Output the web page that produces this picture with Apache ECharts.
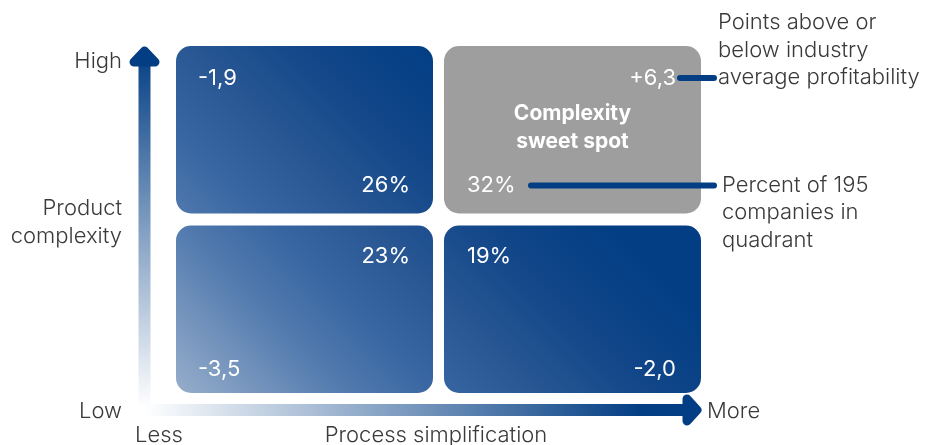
<!DOCTYPE html>
<html>
<head>
<meta charset="utf-8">
<script src="https://cdn.jsdelivr.net/npm/echarts@6/dist/echarts.min.js"></script>
<style>
  html, body { margin: 0; padding: 0; background: #ffffff; }
  #chart { width: 927px; height: 445px; }
</style>
</head>
<body>
<div id="chart"></div>
<script>
// Columns: process simplification (Less -> More); rows: product complexity (Low -> High)
const columnLabels = ['Less', 'More'];
const rowLabels = ['Low', 'High'];
const xAxisTitle = 'Process simplification';
const yAxisTitle = 'Product complexity';

// One entry per quadrant
const quadColumn = [0, 1, 0, 1];
const quadRow = [1, 1, 0, 0];
const profitVsIndustry = [-1.9, 6.3, -3.5, -2.0];   // points above/below industry average profitability
const shareOfCompanies = [26, 32, 23, 19];          // percent of 195 companies in quadrant

const sweetSpotTitle = 'Complexity\nsweet spot';
const profitNote = 'Points above or\nbelow industry\naverage profitability';
const shareNote = 'Percent of 195\ncompanies in\nquadrant';

const NAVY = '#033e84';
const GREY_BOX = '#9e9e9e';
const TEXT = '#3a3a3a';
const FONT = 'Inter, Roboto, "Noto Sans", sans-serif';

const fmtProfit = v => (v > 0 ? '+' : '') + v.toFixed(1).replace('.', ',');

const quadData = quadColumn.map((c, i) => [c, quadRow[i], profitVsIndustry[i], shareOfCompanies[i]]);
const bestProfit = Math.max(...profitVsIndustry);

const chart = echarts.init(document.getElementById('chart'), null, { renderer: 'canvas' });

// diagonal fill shared by all blue quadrants (light at bottom-left, navy towards top-right)
const quadFill = new echarts.graphic.LinearGradient(176, 393, 476, 93, [
  { offset: 0, color: '#97aecb' },
  { offset: 0.3, color: '#4f78ad' },
  { offset: 0.45, color: '#3765a1' },
  { offset: 0.62, color: '#265592' },
  { offset: 0.8, color: '#114689' },
  { offset: 1, color: NAVY }
], true);

function renderQuadrant(params, api) {
  const col = api.value(0);
  const row = api.value(1);
  const profit = api.value(2);
  const share = api.value(3);
  const tl = api.coord([col, row + 1]);
  const br = api.coord([col + 1, row]);
  const padX = 5.5, padY = 6;
  const x = tl[0] + padX, y = tl[1] + padY;
  const w = br[0] - tl[0] - 2 * padX, h = br[1] - tl[1] - 2 * padY;
  const isSweet = profit === bestProfit;

  const numStyle = { fill: '#ffffff', fontFamily: FONT, fontSize: 22, fontWeight: 400 };

  // profitability sits in the outer corner, share towards the centre of the matrix
  const profitX = col === 0 ? x + 22 : x + w - 25;
  const profitY = row === 1 ? y + 32 : y + h - 24;
  const shareX = col === 0 ? x + w - 23 : x + 23;
  const shareY = row === 1 ? y + h - 28 : y + 31;

  const children = [
    {
      type: 'rect',
      shape: { x, y, width: w, height: h, r: 15 },
      style: { fill: isSweet ? GREY_BOX : quadFill }
    },
    {
      type: 'text',
      style: Object.assign({}, numStyle, {
        x: profitX, y: profitY, text: fmtProfit(profit),
        align: col === 0 ? 'left' : 'right', verticalAlign: 'middle'
      })
    },
    {
      type: 'text',
      style: Object.assign({}, numStyle, {
        x: shareX, y: shareY, text: share + '%',
        align: col === 0 ? 'right' : 'left', verticalAlign: 'middle'
      })
    }
  ];

  if (isSweet) {
    children.push({
      type: 'text',
      style: {
        x: x + w / 2, y: y + 82, text: sweetSpotTitle,
        fill: '#ffffff', fontFamily: FONT, fontSize: 21, fontWeight: 700,
        lineHeight: 28, align: 'center', verticalAlign: 'middle'
      }
    });
    // leader lines to the explanatory notes
    const lineStyle = { stroke: NAVY, lineWidth: 6, lineCap: 'round' };
    children.push({
      type: 'line',
      shape: { x1: x + w - 21, y1: profitY, x2: x + w + 13, y2: profitY },
      style: lineStyle
    });
    children.push({
      type: 'line',
      shape: { x1: x + 87, y1: shareY, x2: x + w + 13, y2: shareY },
      style: lineStyle
    });
    children.push({
      type: 'text',
      style: {
        x: x + w + 17, y: profitY - 28, text: profitNote,
        fill: TEXT, fontFamily: FONT, fontSize: 22, fontWeight: 300,
        lineHeight: 27.5, align: 'left', verticalAlign: 'middle'
      }
    });
    children.push({
      type: 'text',
      style: {
        x: x + w + 21, y: shareY + 27, text: shareNote,
        fill: TEXT, fontFamily: FONT, fontSize: 22, fontWeight: 300,
        lineHeight: 27.5, align: 'left', verticalAlign: 'middle'
      }
    });
  }
  return { type: 'group', children };
}

// gradient arrows for the two axes
const vArrowFill = new echarts.graphic.LinearGradient(0, 50, 0, 408, [
  { offset: 0, color: NAVY },
  { offset: 1, color: '#ffffff' }
], true);
const hArrowFill = new echarts.graphic.LinearGradient(145, 0, 640, 0, [
  { offset: 0, color: '#ffffff' },
  { offset: 1, color: NAVY }
], true);

const labelStyle = { fill: TEXT, fontFamily: FONT, fontSize: 22, fontWeight: 300 };

chart.setOption({
  backgroundColor: '#ffffff',
  animation: false,
  grid: { left: 170.5, top: 40, width: 536, height: 359 },
  xAxis: { type: 'value', min: 0, max: 2, show: false },
  yAxis: { type: 'value', min: 0, max: 2, show: false },
  graphic: [
    { type: 'line', shape: { x1: 144.5, y1: 56, x2: 144.5, y2: 411 },
      style: { stroke: vArrowFill, lineWidth: 12, lineCap: 'butt' } },
    { type: 'polygon', shape: { points: [[134, 62], [144.5, 51], [155, 62]] },
      style: { fill: NAVY, stroke: NAVY, lineWidth: 9, lineJoin: 'round' } },
    { type: 'line', shape: { x1: 139, y1: 410, x2: 692, y2: 410 },
      style: { stroke: hArrowFill, lineWidth: 12, lineCap: 'butt' } },
    { type: 'polygon', shape: { points: [[687, 399], [697, 410], [687, 421]] },
      style: { fill: NAVY, stroke: NAVY, lineWidth: 9, lineJoin: 'round' } },

    { type: 'text', style: Object.assign({}, labelStyle, { x: 122, y: 61, text: rowLabels[1], align: 'right', verticalAlign: 'middle' }) },
    { type: 'text', style: Object.assign({}, labelStyle, { x: 122, y: 411, text: rowLabels[0], align: 'right', verticalAlign: 'middle' }) },
    { type: 'text', style: Object.assign({}, labelStyle, { x: 122, y: 222, text: yAxisTitle.replace(' ', '\n'), align: 'right', verticalAlign: 'middle', lineHeight: 28 }) },
    { type: 'text', style: Object.assign({}, labelStyle, { x: 135, y: 435, text: columnLabels[0], align: 'left', verticalAlign: 'middle' }) },
    { type: 'text', style: Object.assign({}, labelStyle, { x: 707, y: 411, text: columnLabels[1], align: 'left', verticalAlign: 'middle' }) },
    { type: 'text', style: Object.assign({}, labelStyle, { x: 436, y: 435, text: xAxisTitle, align: 'center', verticalAlign: 'middle' }) }
  ],
  series: [{
    type: 'custom',
    coordinateSystem: 'cartesian2d',
    renderItem: renderQuadrant,
    data: quadData,
    encode: { x: 0, y: 1 },
    clip: false
  }]
});
</script>
</body>
</html>
